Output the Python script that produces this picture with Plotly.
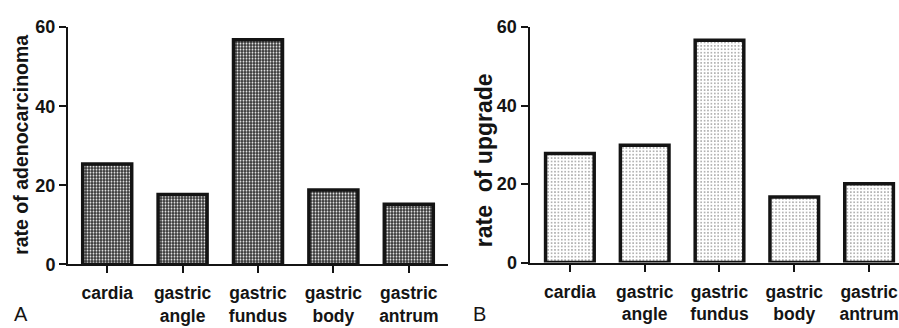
import plotly.graph_objects as go

categories = ["cardia", "gastric angle", "gastric fundus", "gastric body", "gastric antrum"]
tick_labels = ["cardia", "gastric<br>angle", "gastric<br>fundus", "gastric<br>body", "gastric<br>antrum"]
adenocarcinoma_rate = [25.4, 17.7, 56.8, 18.8, 15.2]
upgrade_rate = [27.8, 29.9, 56.7, 16.7, 20.1]
y_ticks = [0, 20, 40, 60]

W, H = 899, 328
INK = "#141414"
FONT = "Liberation Sans, Arial, sans-serif"

fig = go.Figure()

fig.add_trace(go.Bar(
    x=list(range(len(categories))), y=adenocarcinoma_rate, width=0.65,
    xaxis="x", yaxis="y",
    marker=dict(
        color="#333333",
        line=dict(color=INK, width=3.5),
        pattern=dict(shape=".", fillmode="replace", bgcolor="#333333",
                     fgcolor="#f4f4f4", size=3, solidity=0.33),
    ),
    hovertext=categories, showlegend=False,
))

fig.add_trace(go.Bar(
    x=list(range(len(categories))), y=upgrade_rate, width=0.65,
    xaxis="x2", yaxis="y2",
    marker=dict(
        color="white",
        line=dict(color=INK, width=3.5),
        pattern=dict(shape=".", fillmode="replace", bgcolor="white",
                     fgcolor="#4a4a4a", size=3.4, solidity=0.12),
    ),
    hovertext=categories, showlegend=False,
))

xcommon = dict(
    tickmode="array", tickvals=list(range(len(categories))), ticktext=tick_labels,
    showline=True, linecolor=INK, linewidth=2,
    ticks="outside", ticklen=7, tickwidth=2, tickcolor=INK,
    ticklabelstandoff=5,
    showgrid=False, zeroline=False,
    tickfont=dict(family=FONT, size=17.5, color=INK, weight="bold"),
    fixedrange=True,
)
ycommon = dict(
    range=[0, 60], tickmode="array", tickvals=y_ticks,
    showline=True, linecolor=INK, linewidth=2,
    ticks="outside", ticklen=7, tickwidth=2, tickcolor=INK,
    showgrid=False, zeroline=False,
    tickfont=dict(family=FONT, size=18, color=INK, weight="bold"),
    fixedrange=True,
)

fig.update_layout(
    width=W, height=H,
    margin=dict(l=0, r=0, t=0, b=0),
    paper_bgcolor="white", plot_bgcolor="white",
    bargap=0.35,
    xaxis=dict(domain=[68 / W, 448 / W], range=[-0.52, 4.52], anchor="y", **xcommon),
    yaxis=dict(domain=[(H - 271) / H, (H - 18.3) / H], anchor="x", **ycommon),
    xaxis2=dict(domain=[529.5 / W, 1.0], range=[-0.54, 4.4], anchor="y2", **xcommon),
    yaxis2=dict(domain=[(H - 269) / H, (H - 18.3) / H], anchor="x2", **ycommon),
    annotations=[
        dict(text="rate of adenocarcinoma", textangle=-90, xref="paper", yref="paper",
             x=21.6 / W, y=(H - 144) / H, xanchor="center", yanchor="middle",
             showarrow=False, font=dict(family=FONT, size=19.5, color=INK, weight="bold")),
        dict(text="rate\u00a0 of upgrade", textangle=-90, xref="paper", yref="paper",
             x=484 / W, y=(H - 160) / H, xanchor="center", yanchor="middle",
             showarrow=False, font=dict(family=FONT, size=23, color=INK, weight="bold")),
        dict(text="A", xref="paper", yref="paper", x=12 / W, y=(H - 324) / H,
             xanchor="left", yanchor="middle", showarrow=False,
             font=dict(family=FONT, size=20, color=INK)),
        dict(text="B", xref="paper", yref="paper", x=471 / W, y=(H - 324) / H,
             xanchor="left", yanchor="middle", showarrow=False,
             font=dict(family=FONT, size=20, color=INK)),
    ],
)

fig.write_html("out.html")
